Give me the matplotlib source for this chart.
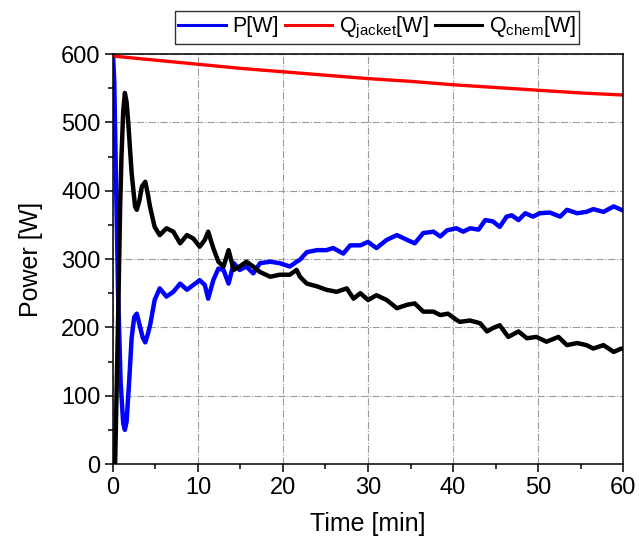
import matplotlib
matplotlib.use("Agg")
import matplotlib.pyplot as plt
from matplotlib.ticker import MultipleLocator

plt.rcParams['font.family'] = ['Liberation Sans', 'DejaVu Sans']
plt.rcParams['mathtext.default'] = 'regular'

# ---- data ----
t_p = [0, 0.15, 0.35, 0.6, 0.9, 1.2, 1.4, 1.6, 1.9, 2.2, 2.5, 2.8, 3.1, 3.5, 3.8,
       4.1, 4.4, 4.9, 5.5, 6.3, 7.1, 7.9, 8.7, 9.45, 10.2, 10.8, 11.2, 11.8, 12.4,
       13.0, 13.6, 14.2, 14.9, 15.7, 16.5, 17.3, 18.5, 19.6, 20.8, 21.6, 22.0, 22.8,
       24, 25.1, 25.9, 27.1, 27.9, 29.1, 30, 31, 32.2, 33.4, 34.6, 35.5, 36.5, 37.7,
       38.5, 39.3, 40.4, 41.2, 42, 43, 43.8, 44.7, 45.5, 46.3, 46.9, 47.7, 48.5,
       49.4, 50.2, 51.4, 52.6, 53.4, 54.6, 55.7, 56.5, 57.7, 58.9, 59.8, 60]
p_w = [600, 560, 420, 250, 120, 60, 50, 62, 120, 185, 215, 220, 205, 185, 178,
       190, 205, 240, 257, 245, 252, 264, 255, 262, 269, 262, 242, 269, 286,
       284, 264, 294, 284, 289, 279, 294, 296, 294, 289, 296, 299, 310,
       313, 313, 316, 308, 320, 320, 325, 316, 328, 335, 328, 323, 338, 340,
       333, 342, 345, 340, 345, 343, 357, 355, 347, 362, 364, 357, 367,
       362, 367, 368, 362, 372, 367, 369, 373, 369, 377, 372, 371]

t_q = [0.2, 0.25, 0.45, 0.63, 0.85, 1.0, 1.2, 1.4, 1.6, 1.8, 2.2, 2.6, 2.8, 3.1,
       3.4, 3.8, 4.1, 4.35, 4.9, 5.5, 6.3, 7.1, 7.9, 8.7, 9.45, 10.2, 10.8, 11.2,
       11.8, 12.4, 13.0, 13.6, 14.2, 14.9, 15.7, 16.5, 17.3, 18.5, 19.6, 20.8,
       21.6, 22.0, 22.8, 24, 25.1, 26.3, 27.5, 28.3, 29.1, 30, 31, 32.2, 33.4,
       34.6, 35.5, 36.5, 37.7, 38.5, 39.4, 40.4, 40.8, 42, 43.2, 44, 44.7, 45.5,
       46.5, 47.7, 48.7, 49.8, 51, 52.4, 53.4, 54.6, 55.7, 56.5, 57.7, 58.9,
       59.8, 60]
q_chem = [-5, 0, 120, 230, 380, 450, 515, 543, 530, 499, 425, 377, 372, 385,
          406, 413, 395, 377, 347, 335, 345, 340, 323, 335, 330, 318, 328, 340,
          316, 296, 289, 313, 284, 289, 296, 289, 281, 274, 277, 277,
          284, 274, 264, 260, 255, 252, 257, 242, 250, 240, 247, 240, 228,
          233, 235, 223, 223, 218, 220, 211, 208, 210, 206, 194, 199, 203,
          186, 194, 184, 186, 179, 186, 174, 177, 174, 169, 174, 164,
          169, 168]

t_j = [0, 5, 10, 15, 20, 25, 30, 35, 40, 45, 50, 55, 60]
q_jacket = [597, 591, 585, 579, 574, 569, 564, 560, 555, 551, 547, 543, 540]

# ---- figure ----
fig = plt.figure(figsize=(6.39, 5.45), dpi=100)
ax = fig.add_axes([0.1768, 0.1486, 0.7982, 0.7523])

l1, = ax.plot(t_p, p_w, color='#0000ff', lw=3.2, label='P[W]')
l2, = ax.plot(t_j, q_jacket, color='#ff0000', lw=2.4, label='Q$_{jacket}$[W]')
l3, = ax.plot(t_q, q_chem, color='#000000', lw=3.2, label='Q$_{chem}$[W]')

ax.set_xlim(0, 60)
ax.set_ylim(0, 600)
ax.xaxis.set_major_locator(MultipleLocator(10))
ax.xaxis.set_minor_locator(MultipleLocator(5))
ax.yaxis.set_major_locator(MultipleLocator(100))
ax.yaxis.set_minor_locator(MultipleLocator(50))

ax.tick_params(which='both', direction='out', top=False, right=False,
               width=1.1, labelsize=17)
ax.tick_params(which='major', length=6, pad=3)
ax.tick_params(which='minor', length=3.5)
for s in ax.spines.values():
    s.set_linewidth(1.1)

ax.grid(True, which='major', color='#9a9a9a', linestyle='-.', linewidth=0.8)
ax.set_axisbelow(True)

ax.set_xlabel('Time [min]', fontsize=18, labelpad=10)
ax.set_ylabel('Power [W]', fontsize=18, labelpad=13)

leg = fig.legend(handles=[l1, l2, l3], loc='center', bbox_to_anchor=(0.59, 0.949),
                 ncol=3, fontsize=15.5, frameon=True, fancybox=False,
                 edgecolor='black', handlelength=2.2, handletextpad=0.3,
                 columnspacing=0.3, borderpad=0.15, borderaxespad=0)
leg.get_frame().set_linewidth(1.0)
for h in leg.legend_handles:
    h.set_linewidth(2.2)

fig.savefig('out.png', dpi=100)
